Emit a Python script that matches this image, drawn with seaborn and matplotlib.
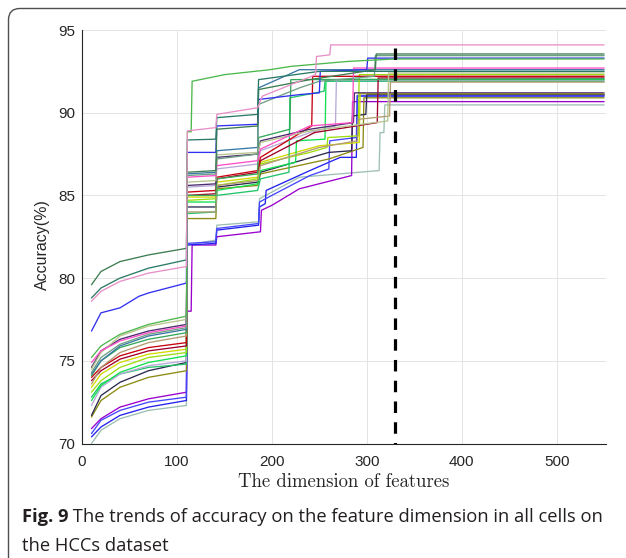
import matplotlib
matplotlib.use("Agg")
import matplotlib.pyplot as plt
from matplotlib.patches import FancyBboxPatch
import seaborn as sns
import pandas as pd

# ---------------- data ----------------
pink_x = [10, 20, 40, 70, 110, 111, 141, 142, 185, 190, 229, 246, 247, 261, 262, 550]
pink_y = [78.6, 79.2, 79.8, 80.3, 80.7, 88.9, 89.1, 89.9, 90.3, 91.0, 91.9, 92.3, 93.4, 93.5, 94.1, 94.1]

green_x = [10, 20, 40, 70, 110, 111, 115, 116, 150, 198, 220, 280, 330, 550]
green_y = [75.2, 75.9, 76.6, 77.2, 77.7, 88.85, 88.85, 91.9, 92.3, 92.6, 92.8, 93.1, 93.25, 93.25]

teal_x = [10, 20, 40, 70, 110, 111, 141, 142, 185, 186, 250, 550]
teal_y = [78.8, 79.4, 80.0, 80.6, 81.1, 88.35, 88.4, 89.7, 89.9, 92.0, 92.5, 92.5]

dkgreen_x = [10, 20, 40, 70, 110, 111, 141, 142, 185, 186, 240, 309, 310, 550]
dkgreen_y = [79.6, 80.4, 81.0, 81.4, 81.8, 86.4, 86.5, 89.0, 89.2, 91.4, 92.0, 92.6, 93.55, 93.55]

blue_x = [10, 20, 40, 60, 70, 110, 111, 141, 142, 185, 186, 230, 250, 251, 300, 301, 550]
blue_y = [76.8, 77.9, 78.2, 78.9, 79.1, 79.7, 87.6, 87.6, 89.2, 89.3, 90.8, 91.1, 91.2, 92.5, 92.6, 93.3, 93.3]

grayteal_x = [10, 20, 40, 70, 110, 111, 141, 142, 185, 186, 229, 250, 308, 309, 550]
grayteal_y = [74.3, 75.2, 76.0, 76.6, 77.0, 86.2, 86.3, 87.2, 87.5, 90.5, 91.5, 91.9, 92.2, 93.45, 93.45]

hotpink_x = [10, 20, 40, 70, 110, 111, 141, 142, 185, 188, 240, 285, 286, 550]
hotpink_y = [74.9, 75.6, 76.2, 76.7, 77.1, 86.1, 86.2, 86.8, 87.1, 87.8, 89.2, 89.4, 92.7, 92.7]

steel_x = [10, 20, 40, 70, 110, 111, 141, 142, 185, 186, 229, 550]
steel_y = [74.2, 75.0, 75.9, 76.5, 76.9, 86.3, 86.4, 87.7, 87.9, 91.5, 92.6, 92.6]

khaki_x = [10, 20, 40, 70, 110, 111, 141, 142, 185, 188, 240, 322, 323, 550]
khaki_y = [74.5, 75.5, 76.5, 77.1, 77.5, 85.8, 85.9, 87.45, 87.6, 88.2, 88.9, 89.5, 92.4, 92.4]

dkpurple_x = [10, 20, 40, 70, 110, 111, 141, 142, 185, 188, 240, 286, 287, 550]
dkpurple_y = [74.6, 75.6, 76.3, 76.8, 77.2, 85.6, 85.7, 87.3, 87.5, 88.3, 89.0, 89.4, 91.2, 91.2]

green3_x = [10, 20, 40, 70, 110, 111, 141, 142, 185, 186, 219, 220, 550]
green3_y = [74.1, 75.0, 75.8, 76.3, 76.7, 85.0, 85.0, 86.0, 86.3, 88.5, 89.0, 92.0, 92.05]

tan_x = [10, 20, 40, 70, 110, 111, 141, 142, 185, 188, 250, 290, 291, 324, 325, 550]
tan_y = [73.6, 74.6, 75.5, 76.1, 76.5, 84.0, 84.0, 85.6, 85.9, 86.8, 87.9, 88.3, 89.6, 89.8, 91.85, 91.85]

red_x = [10, 20, 40, 70, 110, 111, 141, 142, 185, 188, 242, 243, 550]
red_y = [74.0, 74.6, 75.3, 75.8, 76.1, 85.2, 85.3, 86.1, 86.5, 87.3, 89.2, 92.2, 92.2]

darkred_x = [10, 20, 40, 70, 110, 111, 141, 142, 185, 188, 245, 311, 312, 550]
darkred_y = [73.8, 74.4, 75.1, 75.6, 75.9, 85.0, 85.1, 86.0, 86.4, 87.1, 88.8, 89.4, 92.1, 92.1]

lime_x = [10, 20, 40, 70, 110, 111, 141, 142, 185, 188, 240, 258, 259, 291, 292, 550]
lime_y = [73.1, 73.8, 74.6, 75.2, 75.5, 84.7, 84.8, 85.6, 86.0, 86.9, 87.6, 87.9, 88.5, 88.6, 92.3, 92.3]

bgreen_x = [10, 20, 40, 70, 110, 111, 141, 142, 185, 188, 225, 226, 256, 257, 550]
bgreen_y = [72.6, 73.5, 74.3, 74.9, 75.3, 84.6, 84.6, 85.3, 85.7, 86.5, 87.0, 88.3, 88.4, 92.0, 92.0]

lavender_x = [10, 20, 40, 70, 110, 111, 141, 142, 185, 188, 240, 267, 268, 550]
lavender_y = [72.3, 73.4, 74.2, 74.7, 75.0, 85.5, 85.6, 86.6, 86.9, 87.7, 88.8, 89.2, 91.95, 91.95]

navy_x = [10, 20, 40, 70, 110, 111, 141, 142, 185, 188, 260, 284, 285, 299, 300, 550]
navy_y = [71.7, 72.9, 73.7, 74.4, 74.9, 84.3, 84.3, 85.5, 85.8, 86.4, 87.6, 87.7, 89.8, 89.9, 91.1, 91.1]

olive_x = [10, 20, 40, 70, 110, 111, 141, 142, 185, 188, 260, 296, 297, 550]
olive_y = [71.6, 72.6, 73.4, 74.0, 74.4, 83.6, 83.6, 85.4, 85.6, 86.3, 87.2, 87.9, 90.9, 90.9]

green4_x = [10, 20, 40, 70, 110, 111, 141, 142, 185, 188, 218, 219, 255, 256, 550]
green4_y = [72.8, 73.6, 74.2, 74.6, 74.8, 83.9, 84.0, 85.0, 85.3, 86.0, 86.4, 90.9, 91.3, 91.9, 91.9]

yellow_x = [10, 20, 40, 70, 110, 111, 141, 142, 185, 188, 250, 292, 293, 550]
yellow_y = [73.4, 74.2, 74.9, 75.4, 75.7, 84.9, 84.9, 85.8, 86.1, 87.0, 88.0, 88.2, 91.15, 91.15]

bluelow_x = [10, 20, 40, 70, 110, 111, 141, 142, 186, 187, 193, 194, 240, 272, 289, 290, 550]
bluelow_y = [70.4, 71.0, 71.7, 72.2, 72.6, 82.0, 82.1, 82.9, 83.2, 84.3, 84.5, 85.3, 86.5, 87.3, 87.3, 91.0, 91.0]

purple_x = [10, 20, 40, 70, 110, 111, 115, 116, 141, 142, 188, 189, 200, 229, 284, 285, 550]
purple_y = [70.9, 71.5, 72.2, 72.7, 73.1, 78.0, 78.0, 82.0, 82.0, 82.5, 82.8, 84.1, 84.4, 85.4, 86.2, 90.67, 90.67]

gray_x = [10, 20, 40, 70, 110, 111, 141, 142, 186, 187, 200, 229, 313, 314, 318, 319, 550]
gray_y = [70.0, 70.8, 71.5, 72.0, 72.3, 82.0, 82.3, 83.2, 83.4, 84.8, 85.2, 86.1, 86.5, 88.8, 88.8, 90.47, 90.47]

blue2_x = [10, 20, 40, 70, 110, 111, 141, 142, 186, 187, 200, 240, 260, 261, 289, 290, 550]
blue2_y = [70.6, 71.4, 72.0, 72.5, 72.8, 82.1, 82.2, 83.0, 83.3, 84.6, 85.0, 86.2, 86.6, 88.3, 88.5, 91.05, 91.05]

selected_dim = 330
selected_top = 93.9

x_ticks = [0, 100, 200, 300, 400, 500]
y_ticks = [70, 75, 80, 85, 90, 95]

series = [
    ("gray", "#9dbfb2", gray_x, gray_y),
    ("purple", "#9a00cc", purple_x, purple_y),
    ("bluelow", "#2222ee", bluelow_x, bluelow_y),
    ("blue2", "#4545ff", blue2_x, blue2_y),
    ("olive", "#8c8a12", olive_x, olive_y),
    ("navy", "#2c2a4f", navy_x, navy_y),
    ("yellow", "#d0da00", yellow_x, yellow_y),
    ("green4", "#22c46a", green4_x, green4_y),
    ("lavender", "#b9a9d9", lavender_x, lavender_y),
    ("bgreen", "#12e050", bgreen_x, bgreen_y),
    ("lime", "#9cdd10", lime_x, lime_y),
    ("darkred", "#a0002a", darkred_x, darkred_y),
    ("red", "#c80010", red_x, red_y),
    ("tan", "#b39b72", tan_x, tan_y),
    ("green3", "#35a85a", green3_x, green3_y),
    ("dkpurple", "#4b2c70", dkpurple_x, dkpurple_y),
    ("khaki", "#b8c48e", khaki_x, khaki_y),
    ("steel", "#3a78a6", steel_x, steel_y),
    ("hotpink", "#ff4fc6", hotpink_x, hotpink_y),
    ("grayteal", "#6f9f86", grayteal_x, grayteal_y),
    ("blue", "#3030f0", blue_x, blue_y),
    ("dkgreen", "#3d7d50", dkgreen_x, dkgreen_y),
    ("teal", "#2b7a66", teal_x, teal_y),
    ("green", "#4cb84c", green_x, green_y),
    ("pink", "#e88fc8", pink_x, pink_y),
]

rows = []
for name, color, xs, ys in series:
    for i, (xv, yv) in enumerate(zip(xs, ys)):
        rows.append({"cell": name, "order": i, "dim": xv, "acc": yv})
df = pd.DataFrame(rows)
palette = {name: color for name, color, _, _ in series}
order = [name for name, _, _, _ in series]

# ---------------- figure ----------------
sns.set_theme(style="white")
plt.rcParams["font.family"] = ["Liberation Sans", "DejaVu Sans"]

W, H = 626, 558
fig = plt.figure(figsize=(W / 100, H / 100), dpi=100)
fig.patch.set_facecolor("white")

# outer rounded frame (top and left edges visible, the rest runs off the canvas)
fx0, fy_top = 8.5, 8.5
frame = FancyBboxPatch((fx0 / W, -0.2), 1.5, 1 - fy_top / H + 0.2,
                       boxstyle="round,pad=0,rounding_size=0.018",
                       mutation_aspect=W / H,
                       transform=fig.transFigure, facecolor="none",
                       edgecolor="#4f4f4f", linewidth=1.0, clip_on=False)
fig.patches.append(frame)

ax_l, ax_r, ax_t, ax_b = 82, 606, 30, 443.5
ax = fig.add_axes([ax_l / W, 1 - ax_b / H, (ax_r - ax_l) / W, (ax_b - ax_t) / H])

sns.lineplot(data=df, x="dim", y="acc", hue="cell", hue_order=order,
             palette=palette, estimator=None, sort=False, units="cell",
             linewidth=0.95, legend=False, ax=ax)

ax.plot([selected_dim, selected_dim], [selected_top, 70], color="black",
        linewidth=2.3, linestyle=(0, (3.6, 2.9)), zorder=10)

ax.set_xlim(0, 552)
ax.set_ylim(70, 95)
ax.set_xticks(x_ticks)
ax.set_yticks(y_ticks)
ax.grid(True, color="#e4e4e4", linewidth=0.7)
ax.set_axisbelow(True)
for s in ["top", "right"]:
    ax.spines[s].set_visible(False)
for s in ["left", "bottom"]:
    ax.spines[s].set_color("#262626")
    ax.spines[s].set_linewidth(0.8)
ax.tick_params(axis="both", direction="in", length=4, width=0.8,
               color="#262626", labelcolor="#262626", labelsize=11)
ax.tick_params(axis="x", pad=8.5)
ax.tick_params(axis="y", pad=5)
ax.set_xlabel("")
ax.set_ylabel("")

fig.text(42 / W, 1 - 245 / H, "Accuracy(%)", rotation=90, ha="center",
         va="center", fontsize=11.5, color="#262626")
fig.text(344 / W, 1 - 482 / H, "The dimension of features", ha="center",
         va="center", fontsize=13.5, family="cmr10", color="#262626")

# caption
cap_kw = dict(fontsize=13.2, color="#231f20", family=["Open Sans", "DejaVu Sans"])
t1 = fig.text(22 / W, 1 - 526 / H, "Fig. 9", fontweight="bold", va="bottom", **cap_kw)
ax.annotate(" The trends of accuracy on the feature dimension in all cells on",
            xy=(1, 0), xycoords=t1, va="bottom", ha="left", annotation_clip=False,
            **cap_kw)
fig.text(22 / W, 1 - 555 / H, "the HCCs dataset", va="bottom", **cap_kw)

fig.savefig("out.png", dpi=100)
